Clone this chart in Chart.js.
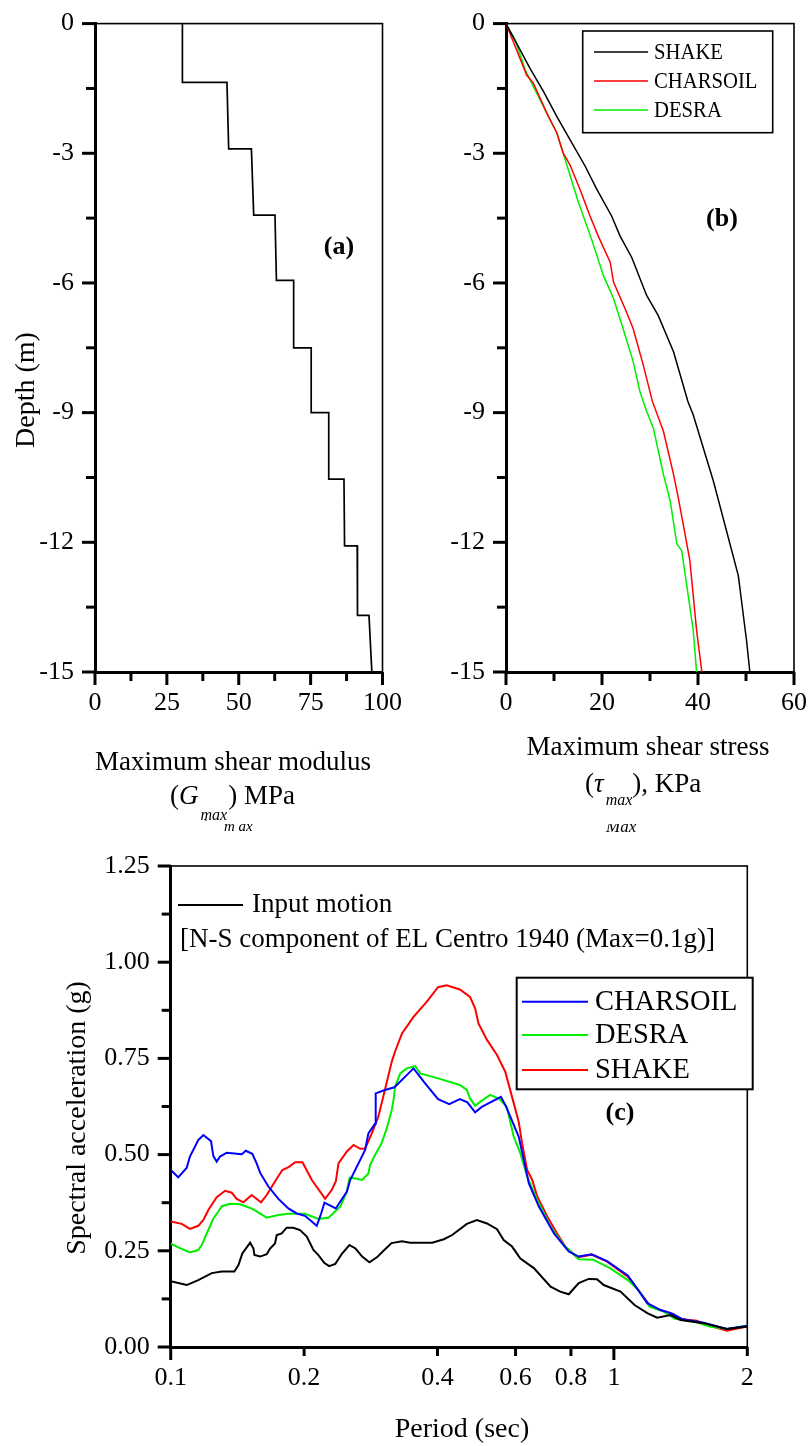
<!DOCTYPE html>
<html><head><meta charset="utf-8">
<script src="https://cdn.jsdelivr.net/npm/chart.js@4.4.1/dist/chart.umd.min.js"></script>
<style>
html,body{margin:0;padding:0;background:#fff;}
#wrap{position:relative;width:810px;height:1446px;overflow:hidden;}
canvas{position:absolute;}
</style></head><body>
<div id="wrap">
<canvas id="ca" width="405" height="840" style="left:0;top:0;width:405px;height:840px"></canvas>
<canvas id="cb" width="405" height="840" style="left:405px;top:0;width:405px;height:840px"></canvas>
<canvas id="cc" width="810" height="606" style="left:0;top:840px;width:810px;height:606px"></canvas>
</div>
<script>
// ---------------- DATA ----------------
// (a) Gmax profile: each layer has top/bottom depth and Gmax at top/bottom
const layerDepthTop    = [0, -1.36, -2.90, -4.43, -5.94, -7.50, -9.00, -10.54, -12.08, -13.69];
const layerDepthBottom = [-1.36, -2.90, -4.43, -5.94, -7.50, -9.00, -10.54, -12.08, -13.69, -15];
const gmaxTop    = [30.4, 45.9, 54.4, 62.6, 69.1, 75.2, 81.3, 86.6, 91.2, 95.3];
const gmaxBottom = [30.4, 46.5, 55.2, 63.1, 69.1, 75.2, 81.3, 86.8, 91.3, 96.3];
const gmaxTicksMajor = [0, 25, 50, 75, 100];
const gmaxTicksMinor = [12.5, 37.5, 62.5, 87.5];
const depthTicksMajor = [0, -3, -6, -9, -12, -15];
const depthTicksMinor = [-1.5, -4.5, -7.5, -10.5, -13.5];

// (b) maximum shear stress profiles
const shakeDepth = [0, -1.035, -1.57, -2.15, -2.68, -3.30, -3.83, -4.45, -4.91, -5.41, -6.29, -6.75, -7.59, -8.74, -9.05, -10.58, -12.77, -14.26, -15];
const shakeTau   = [0, 5.0, 7.8, 10.6, 13.3, 16.5, 18.9, 22.0, 23.75, 26.2, 29.3, 31.7, 34.9, 37.9, 39.0, 43.2, 48.4, 50.1, 50.8];
const charsoilDepth = [0, -1.19, -1.38, -2.07, -2.53, -2.99, -3.26, -3.83, -4.45, -4.91, -5.52, -5.98, -6.67, -7.06, -7.90, -8.74, -9.43, -10.43, -10.97, -12.42, -14.03, -15];
const charsoilTau   = [0, 4.3, 5.7, 8.5, 10.6, 11.9, 13.3, 15.4, 17.5, 19.2, 21.7, 22.4, 25.1, 26.5, 28.6, 30.5, 32.8, 34.9, 35.9, 38.3, 39.7, 40.8];
const desraDepth = [0, -0.38, -1.07, -1.61, -2.07, -2.53, -3.14, -4.14, -4.98, -5.83, -6.36, -7.06, -7.82, -8.51, -8.97, -9.36, -10.43, -11.04, -12.04, -12.19, -14.03, -15];
const desraTau   = [0, 1.9, 4.0, 6.4, 8.5, 10.6, 12.3, 15.1, 17.8, 20.3, 22.4, 24.4, 26.5, 27.9, 29.3, 30.7, 32.8, 34.2, 35.6, 36.6, 39.0, 39.7];
const tauTicksMajor = [0, 20, 40, 60];
const tauTicksMinor = [10, 30, 50];

// (c) response spectra [period (s), Sa (g)]
const inputMotion = [[0.1,0.171],[0.1087,0.161],[0.1154,0.174],[0.1238,0.192],[0.1304,0.196],[0.1392,0.196],[0.1422,0.213],[0.1451,0.243],[0.1511,0.271],[0.1537,0.256],[0.1545,0.239],[0.1591,0.235],[0.1647,0.241],[0.1676,0.256],[0.1719,0.269],[0.1735,0.291],[0.178,0.295],[0.1827,0.31],[0.1891,0.31],[0.1958,0.304],[0.2028,0.287],[0.2099,0.252],[0.2154,0.239],[0.2223,0.218],[0.2279,0.21],[0.2352,0.216],[0.2436,0.243],[0.2531,0.265],[0.2612,0.256],[0.2704,0.235],[0.2808,0.22],[0.2919,0.233],[0.3021,0.25],[0.315,0.27],[0.3326,0.275],[0.3469,0.271],[0.389,0.271],[0.4134,0.28],[0.4316,0.291],[0.4658,0.32],[0.4909,0.33],[0.5172,0.321],[0.5448,0.306],[0.5641,0.278],[0.5891,0.261],[0.6152,0.23],[0.6597,0.205],[0.7197,0.157],[0.7568,0.144],[0.791,0.137],[0.833,0.166],[0.877,0.177],[0.916,0.176],[0.9486,0.161],[1.035,0.144],[1.1135,0.109],[1.1895,0.088],[1.2523,0.076],[1.3426,0.083],[1.4143,0.07],[1.5944,0.062],[1.7987,0.047],[2.0,0.053]];
const charsoilSa = [[0.1,0.46],[0.104,0.441],[0.1087,0.466],[0.1105,0.495],[0.1154,0.538],[0.1185,0.551],[0.1233,0.535],[0.1248,0.496],[0.127,0.482],[0.1292,0.495],[0.1338,0.505],[0.1447,0.501],[0.1477,0.51],[0.1528,0.502],[0.1563,0.477],[0.1591,0.453],[0.1661,0.417],[0.175,0.385],[0.1843,0.36],[0.1925,0.347],[0.2009,0.341],[0.2136,0.315],[0.2185,0.347],[0.2223,0.375],[0.2358,0.36],[0.2498,0.404],[0.2541,0.434],[0.2746,0.512],[0.2793,0.555],[0.2891,0.58],[0.2901,0.659],[0.3043,0.668],[0.3198,0.675],[0.3531,0.724],[0.375,0.685],[0.4012,0.644],[0.4251,0.631],[0.4493,0.644],[0.4672,0.636],[0.4863,0.61],[0.5034,0.624],[0.5559,0.65],[0.5689,0.629],[0.6099,0.547],[0.643,0.425],[0.6773,0.365],[0.7326,0.295],[0.791,0.248],[0.8333,0.235],[0.891,0.241],[0.965,0.223],[1.075,0.186],[1.19,0.114],[1.274,0.096],[1.36,0.086],[1.43,0.072],[1.594,0.063],[1.799,0.047],[2.0,0.055]];
const desraSa = [[0.1,0.269],[0.104,0.259],[0.1105,0.246],[0.1154,0.252],[0.1175,0.265],[0.1206,0.295],[0.1248,0.334],[0.1281,0.352],[0.1304,0.366],[0.1362,0.372],[0.1434,0.371],[0.1523,0.36],[0.1647,0.336],[0.175,0.343],[0.1843,0.346],[0.2009,0.346],[0.2154,0.333],[0.227,0.336],[0.2352,0.353],[0.2415,0.365],[0.2498,0.404],[0.2533,0.44],[0.2612,0.438],[0.2704,0.434],[0.2793,0.451],[0.2817,0.473],[0.2891,0.499],[0.299,0.529],[0.3069,0.566],[0.3153,0.616],[0.3183,0.642],[0.3208,0.676],[0.3295,0.711],[0.3409,0.724],[0.3562,0.73],[0.3656,0.711],[0.4012,0.698],[0.4493,0.681],[0.4658,0.668],[0.4735,0.646],[0.4863,0.627],[0.499,0.637],[0.5258,0.655],[0.5522,0.644],[0.5732,0.624],[0.5941,0.547],[0.6152,0.503],[0.6372,0.443],[0.6715,0.382],[0.7197,0.313],[0.7702,0.265],[0.8333,0.228],[0.8973,0.227],[0.98,0.205],[1.075,0.174],[1.136,0.148],[1.203,0.105],[1.295,0.092],[1.373,0.073],[1.517,0.066],[1.645,0.053],[1.799,0.047],[2.0,0.055]];
const shakeSa = [[0.1,0.326],[0.1059,0.32],[0.1105,0.307],[0.1154,0.315],[0.1185,0.33],[0.1216,0.356],[0.127,0.389],[0.1327,0.406],[0.1373,0.401],[0.1409,0.385],[0.1459,0.376],[0.1523,0.395],[0.1599,0.376],[0.1647,0.395],[0.1719,0.43],[0.1786,0.46],[0.185,0.468],[0.1909,0.48],[0.1983,0.48],[0.2082,0.434],[0.2231,0.385],[0.2308,0.408],[0.2358,0.43],[0.2391,0.477],[0.2498,0.508],[0.2586,0.525],[0.2677,0.515],[0.2746,0.516],[0.2843,0.555],[0.294,0.598],[0.3043,0.668],[0.3153,0.741],[0.3208,0.768],[0.3326,0.815],[0.3531,0.858],[0.378,0.897],[0.4012,0.935],[0.4193,0.94],[0.4493,0.929],[0.4735,0.91],[0.4863,0.88],[0.4948,0.841],[0.5172,0.798],[0.5448,0.759],[0.5689,0.715],[0.5891,0.65],[0.6099,0.585],[0.6208,0.529],[0.6372,0.46],[0.6542,0.434],[0.6715,0.391],[0.7073,0.339],[0.7446,0.295],[0.7767,0.261],[0.8263,0.233],[0.8909,0.24],[0.9652,0.222],[1.0749,0.183],[1.1356,0.148],[1.2114,0.105],[1.2946,0.094],[1.3426,0.088],[1.4143,0.073],[1.5383,0.068],[1.6453,0.055],[1.7987,0.042],[2.0,0.053]];
const periodTicks = [0.1, 0.2, 0.4, 0.6, 0.8, 1, 2];
const periodTicksLong = [0.1, 1];
const saTicksMajor = [0, 0.25, 0.5, 0.75, 1.0, 1.25];
const saTicksMinor = [0.125, 0.375, 0.625, 0.875, 1.125];

// ---------------- HELPERS ----------------
const SERIF = "'Liberation Serif','Times New Roman',Times,serif";
const BLACK = '#000000', RED = '#ff0000', GREEN = '#00ee00', BLUE = '#0000ff';

function txt(ctx, s, x, y, o) {
  o = o || {};
  ctx.save();
  ctx.font = (o.style || '') + ' ' + (o.weight || '') + ' ' + (o.size || 27) + 'px ' + SERIF;
  ctx.fillStyle = '#000';
  ctx.textAlign = o.align || 'left';
  ctx.textBaseline = o.base || 'middle';
  const sx = o.sx || 1;
  if (o.rot) { ctx.translate(x, y); ctx.rotate(o.rot); ctx.fillText(s, 0, 0); }
  else { ctx.translate(x, y); ctx.scale(sx, 1); ctx.fillText(s, 0, 0); }
  const w = ctx.measureText(s).width * sx;
  ctx.restore();
  return w;
}
function hline(ctx, x1, x2, y, color, lw) {
  ctx.save(); ctx.strokeStyle = color; ctx.lineWidth = lw;
  ctx.beginPath(); ctx.moveTo(x1, y); ctx.lineTo(x2, y); ctx.stroke(); ctx.restore();
}
function frame(chart) {
  const ca = chart.chartArea, ctx = chart.ctx;
  ctx.save(); ctx.strokeStyle = '#000'; ctx.lineWidth = 1.6;
  ctx.strokeRect(ca.left, ca.top, ca.right - ca.left, ca.bottom - ca.top);
  ctx.restore();
}
function ticks(chart, xs, ys) {
  const ca = chart.chartArea, ctx = chart.ctx;
  const sx = chart.scales.x, sy = chart.scales.y;
  ctx.save(); ctx.strokeStyle = '#000'; ctx.lineWidth = 3;
  xs.forEach(function (t) {
    const p = sx.getPixelForValue(t[0]);
    ctx.beginPath(); ctx.moveTo(p, ca.bottom); ctx.lineTo(p, ca.bottom + t[1]); ctx.stroke();
  });
  ys.forEach(function (t) {
    const p = sy.getPixelForValue(t[0]);
    ctx.beginPath(); ctx.moveTo(ca.left, p); ctx.lineTo(ca.left - t[1], p); ctx.stroke();
  });
  ctx.restore();
}
const LONG = 13, SHORT = 9;
function tickList(major, minor) {
  return major.map(v => [v, LONG]).concat(minor.map(v => [v, SHORT]));
}
function axisCommon(extra) {
  return Object.assign({
    grid: { display: false, drawTicks: true, tickLength: 13 },
    border: { display: true, width: 3, color: '#000' },
  }, extra);
}
const tickFont = { family: SERIF, size: 26 };
const baseOpts = {
  responsive: false, animation: false, devicePixelRatio: 1, events: [],
  plugins: { legend: { display: false }, tooltip: { enabled: false } },
};
function pairs(xs, ys) { return xs.map((x, i) => ({ x: x, y: ys[i] })); }

// ---------------- CHART (a) ----------------
const gmaxPoints = [];
layerDepthTop.forEach(function (d, i) {
  gmaxPoints.push({ x: gmaxTop[i], y: d });
  gmaxPoints.push({ x: gmaxBottom[i], y: layerDepthBottom[i] });
});

new Chart(document.getElementById('ca'), {
  type: 'scatter',
  data: { datasets: [{ data: gmaxPoints, showLine: true, borderColor: BLACK, borderWidth: 1.7, pointRadius: 0, tension: 0 }] },
  options: Object.assign({}, baseOpts, {
    layout: { padding: { top: 20, right: 22, left: 0, bottom: 0 } },
    scales: {
      x: axisCommon({ type: 'linear', min: 0, max: 100,
        afterBuildTicks: s => { s.ticks = gmaxTicksMajor.map(v => ({ value: v })); },
        afterFit: s => { s.height = 168; },
        ticks: { font: tickFont, color: '#000', padding: 3, maxRotation: 0, autoSkip: false } }),
      y: axisCommon({ type: 'linear', min: -15, max: 0,
        afterBuildTicks: s => { s.ticks = depthTicksMajor.map(v => ({ value: v })); },
        afterFit: s => { s.width = 95; },
        ticks: { font: tickFont, color: '#000', padding: 8, autoSkip: false } }),
    }
  }),
  plugins: [{
    id: 'decoA',
    beforeDatasetsDraw: frame,
    afterDraw(chart) {
      const ctx = chart.ctx;
      ticks(chart, tickList(gmaxTicksMajor, gmaxTicksMinor), tickList(depthTicksMajor, depthTicksMinor));
      txt(ctx, '(a)', 339, 247, { size: 26, weight: 'bold', align: 'center' });
      txt(ctx, 'Depth (m)', 27, 390, { size: 28, align: 'center', rot: -Math.PI / 2 });
      txt(ctx, 'Maximum shear modulus', 233, 763, { size: 27, align: 'center' });
      let x = 170;
      x += txt(ctx, '(', x, 804, { size: 27, base: 'alphabetic' });
      x += txt(ctx, 'G', x, 804, { size: 27, style: 'italic', base: 'alphabetic' });
      x += 2;
      x += txt(ctx, 'max', x, 820, { size: 16, style: 'italic', base: 'alphabetic' });
      x += 1;
      txt(ctx, ') MPa', x, 804, { size: 27, base: 'alphabetic' });
      txt(ctx, '`', 203, 829, { size: 14, base: 'alphabetic' });
      txt(ctx, 'm ax', 224, 831, { size: 15, style: 'italic', base: 'alphabetic' });
    }
  }]
});

// ---------------- CHART (b) ----------------
new Chart(document.getElementById('cb'), {
  type: 'scatter',
  data: { datasets: [
    { label: 'SHAKE', data: pairs(shakeTau, shakeDepth), showLine: true, borderColor: BLACK, borderWidth: 1.5, pointRadius: 0 },
    { label: 'CHARSOIL', data: pairs(charsoilTau, charsoilDepth), showLine: true, borderColor: RED, borderWidth: 1.5, pointRadius: 0 },
    { label: 'DESRA', data: pairs(desraTau, desraDepth), showLine: true, borderColor: GREEN, borderWidth: 1.5, pointRadius: 0 },
  ] },
  options: Object.assign({}, baseOpts, {
    layout: { padding: { top: 20, right: 15.7, left: 0, bottom: 0 } },
    scales: {
      x: axisCommon({ type: 'linear', min: 0, max: 60,
        afterBuildTicks: s => { s.ticks = tauTicksMajor.map(v => ({ value: v })); },
        afterFit: s => { s.height = 168; },
        ticks: { font: tickFont, color: '#000', padding: 3, maxRotation: 0, autoSkip: false } }),
      y: axisCommon({ type: 'linear', min: -15, max: 0,
        afterBuildTicks: s => { s.ticks = depthTicksMajor.map(v => ({ value: v })); },
        afterFit: s => { s.width = 101; },
        ticks: { font: tickFont, color: '#000', padding: 8, autoSkip: false } }),
    }
  }),
  plugins: [{
    id: 'decoB',
    beforeDatasetsDraw: frame,
    afterDraw(chart) {
      const ctx = chart.ctx;
      ticks(chart, tickList(tauTicksMajor, tauTicksMinor), tickList(depthTicksMajor, depthTicksMinor));
      // legend
      ctx.save(); ctx.fillStyle = '#fff'; ctx.fillRect(177.7, 31, 190, 101.7);
      ctx.strokeStyle = '#000'; ctx.lineWidth = 1.6; ctx.strokeRect(177.7, 31, 190, 101.7); ctx.restore();
      const ds = chart.data.datasets;
      [52, 81, 110].forEach(function (y, i) {
        hline(ctx, 189, 243, y, ds[i].borderColor, 1.6);
        txt(ctx, ds[i].label, 249, y + 1, { size: 23, sx: 0.9 });
      });
      txt(ctx, '(b)', 317, 219, { size: 26, weight: 'bold', align: 'center' });
      txt(ctx, 'Maximum shear stress', 243, 748, { size: 27, align: 'center' });
      let x = 180;
      x += txt(ctx, '(', x, 792, { size: 27, base: 'alphabetic' });
      x += txt(ctx, '\u03C4', x, 792, { size: 27, style: 'italic', base: 'alphabetic' });
      x += 2;
      x += txt(ctx, 'max', x, 805, { size: 16, style: 'italic', base: 'alphabetic' });
      txt(ctx, '), KPa', x, 792, { size: 27, base: 'alphabetic' });
      ctx.save(); ctx.beginPath(); ctx.rect(190, 824, 60, 20); ctx.clip();
      txt(ctx, 'Max', 201, 832, { size: 17, style: 'italic', base: 'alphabetic' });
      ctx.restore();
    }
  }]
});

// ---------------- CHART (c) ----------------
new Chart(document.getElementById('cc'), {
  type: 'scatter',
  data: { datasets: [
    { label: 'Input motion', data: inputMotion.map(p => ({ x: p[0], y: p[1] })), showLine: true, borderColor: BLACK, borderWidth: 2, pointRadius: 0 },
    { label: 'CHARSOIL', data: charsoilSa.map(p => ({ x: p[0], y: p[1] })), showLine: true, borderColor: BLUE, borderWidth: 2, pointRadius: 0 },
    { label: 'DESRA', data: desraSa.map(p => ({ x: p[0], y: p[1] })), showLine: true, borderColor: GREEN, borderWidth: 2, pointRadius: 0 },
    { label: 'SHAKE', data: shakeSa.map(p => ({ x: p[0], y: p[1] })), showLine: true, borderColor: RED, borderWidth: 2, pointRadius: 0 },
  ] },
  options: Object.assign({}, baseOpts, {
    layout: { padding: { top: 26, right: 62.7, left: 0, bottom: 0 } },
    scales: {
      x: axisCommon({ type: 'logarithmic', min: 0.1, max: 2,
        afterBuildTicks: s => { s.ticks = periodTicks.map(v => ({ value: v })); },
        afterFit: s => { s.height = 99; },
        ticks: { font: tickFont, color: '#000', padding: 3, maxRotation: 0, autoSkip: false, callback: v => String(v) } }),
      y: axisCommon({ type: 'linear', min: 0, max: 1.25,
        afterBuildTicks: s => { s.ticks = saTicksMajor.map(v => ({ value: v })); },
        afterFit: s => { s.width = 170.7; },
        ticks: { font: tickFont, color: '#000', padding: 8, autoSkip: false, callback: v => Number(v).toFixed(2) } }),
    }
  }),
  plugins: [{
    id: 'decoC',
    beforeDatasetsDraw: frame,
    afterDraw(chart) {
      const ctx = chart.ctx;
      const xt = periodTicks.map(v => [v, periodTicksLong.indexOf(v) >= 0 ? LONG : SHORT]);
      ticks(chart, xt, tickList(saTicksMajor, saTicksMinor));
      const ds = chart.data.datasets;
      hline(ctx, 178, 243, 65, ds[0].borderColor, 2);
      txt(ctx, ds[0].label, 252, 65, { size: 27 });
      txt(ctx, '[N-S component of EL Centro 1940 (Max=0.1g)]', 180, 100, { size: 27 });
      ctx.save(); ctx.fillStyle = '#fff'; ctx.fillRect(516.7, 137.7, 236, 111.6);
      ctx.strokeStyle = '#000'; ctx.lineWidth = 2; ctx.strokeRect(516.7, 137.7, 236, 111.6); ctx.restore();
      [161.7, 195, 230].forEach(function (y, i) {
        hline(ctx, 522, 588, y, ds[i + 1].borderColor, 2);
        txt(ctx, ds[i + 1].label, 595, y + 1, { size: 28.5 });
      });
      txt(ctx, '(c)', 620, 273, { size: 26, weight: 'bold', align: 'center' });
      txt(ctx, 'Spectral acceleration (g)', 78, 278, { size: 28, align: 'center', rot: -Math.PI / 2 });
      txt(ctx, 'Period (sec)', 462, 590, { size: 28, align: 'center' });
    }
  }]
});
</script>
</body></html>
